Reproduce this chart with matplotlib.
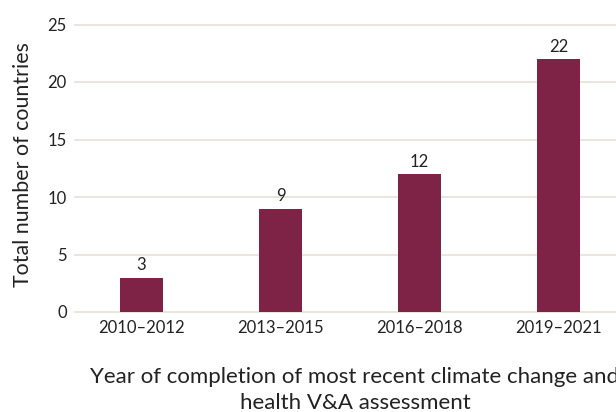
import matplotlib
matplotlib.use("Agg")
import matplotlib.pyplot as plt

categories = ["2010\u20132012", "2013\u20132015", "2016\u20132018", "2019\u20132021"]
values = [3, 9, 12, 22]
yticks = [0, 5, 10, 15, 20, 25]

W, H = 616, 412
fig = plt.figure(figsize=(W / 100, H / 100), dpi=100)
plt.rcParams['font.family'] = ['Lato', 'DejaVu Sans']

left, right = 75, 660
bottom, top = 312, 24.5
ax = fig.add_axes([left / W, (H - bottom) / H, (right - left) / W, (bottom - top) / H])

bar_color = "#7f2346"
x = list(range(len(categories)))
bars = ax.bar(x, values, width=0.31, color=bar_color, zorder=3)
for b, v in zip(bars, values):
    ax.annotate(str(v), (b.get_x() + b.get_width() / 2, v), xytext=(0, 3),
                textcoords="offset points", ha="center", va="bottom",
                fontsize=12, color="#222222")

ax.set_xlim(-0.478, 3.73)
ax.set_ylim(0, 25)
ax.set_yticks(yticks)
ax.set_xticks(x)
ax.set_xticklabels(categories)
ax.tick_params(axis="both", length=0, labelsize=12, colors="#222222")
ax.tick_params(axis="y", pad=6)
ax.tick_params(axis="x", pad=6)
ax.grid(axis="y", color="#e8e0d8", linewidth=1.2, zorder=0)
ax.set_axisbelow(True)
for s in ax.spines.values():
    s.set_visible(False)
for gl in ax.get_ygridlines():
    gl.set_clip_on(False)

fig.text(23 / W, (H - 165) / H, "Total number of countries", rotation=90,
         ha="center", va="center", fontsize=15.4, color="#222222")
fig.text(355 / W, (H - 390) / H,
         "Year of completion of most recent climate change and\nhealth V&A assessment",
         ha="center", va="center", fontsize=16, color="#222222", linespacing=1.35)

fig.savefig("out.png", dpi=100)
